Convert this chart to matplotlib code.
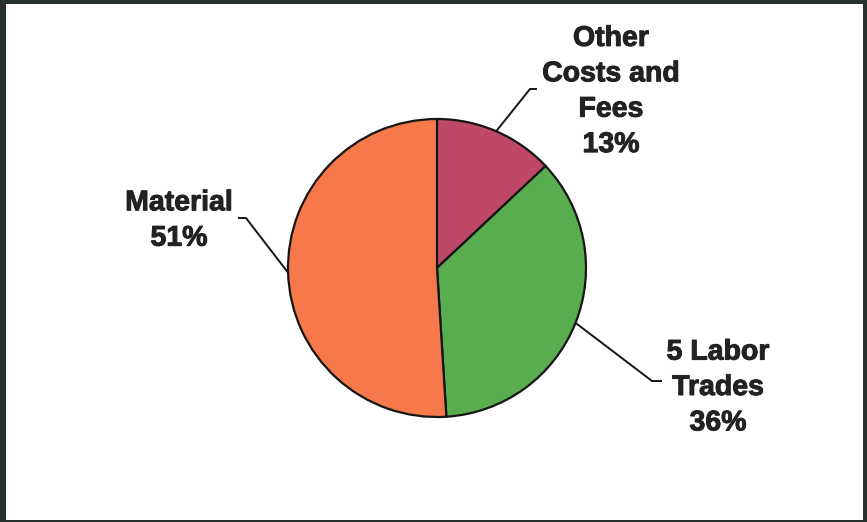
import numpy as np
import matplotlib
matplotlib.use("Agg")
import matplotlib.pyplot as plt
import matplotlib.patheffects as pe
from matplotlib.patches import Rectangle

# Cost breakdown
categories = ["Other\nCosts and\nFees", "5 Labor\nTrades", "Material"]
shares = [13, 36, 51]
colors = ["#bf4869", "#5aad4f", "#f7784b"]

W, H = 867, 522
fig = plt.figure(figsize=(W / 100, H / 100), dpi=100)
fig.patch.set_facecolor("white")
ax = fig.add_axes([0, 0, 1, 1])

cx, cy, r = 437, H - 268, 149
wedges, _ = ax.pie(shares, colors=colors, startangle=90, counterclock=False,
                   center=(cx, cy), radius=r,
                   wedgeprops=dict(edgecolor="#151515", linewidth=1.6))
ax.set_xlim(0, W)
ax.set_ylim(0, H)
ax.set_aspect("equal")
ax.axis("off")

# label text centre, elbow of leader line and leader end (pixel positions, y down)
label_pos = [(611, 92), (718, 388), (179, 221)]
elbows = [((530, 89), (537, 89)), ((652, 381), (662, 381)), ((246, 218), (238, 218))]

for w, cat, val, (tx, ty), (e1, e2) in zip(wedges, categories, shares, label_pos, elbows):
    mid = np.deg2rad((w.theta1 + w.theta2) / 2)
    ax0 = cx + r * np.cos(mid)
    ay0 = cy + r * np.sin(mid)
    xs = [ax0, e1[0], e2[0]]
    ys = [ay0, H - e1[1], H - e2[1]]
    ax.plot(xs, ys, color="#151515", lw=1.4, solid_capstyle="butt")
    ax.text(tx, H - ty, f"{cat}\n{val}%", ha="center", va="center",
            family="Liberation Sans", fontweight="bold", fontsize=20.5,
            color="#222222", linespacing=1.47,
            path_effects=[pe.withStroke(linewidth=0.7, foreground="#222222")])

# dark frame around the figure
frame = "#28312d"
for x, y, w_, h_ in [(0, 0, 6, H), (W - 4, 0, 4, H), (0, H - 4, W, 4), (0, 0, W, 2)]:
    ax.add_patch(Rectangle((x, y), w_, h_, facecolor=frame, edgecolor="none",
                           clip_on=False, zorder=10))

fig.savefig("out.png", dpi=100, facecolor="white")
